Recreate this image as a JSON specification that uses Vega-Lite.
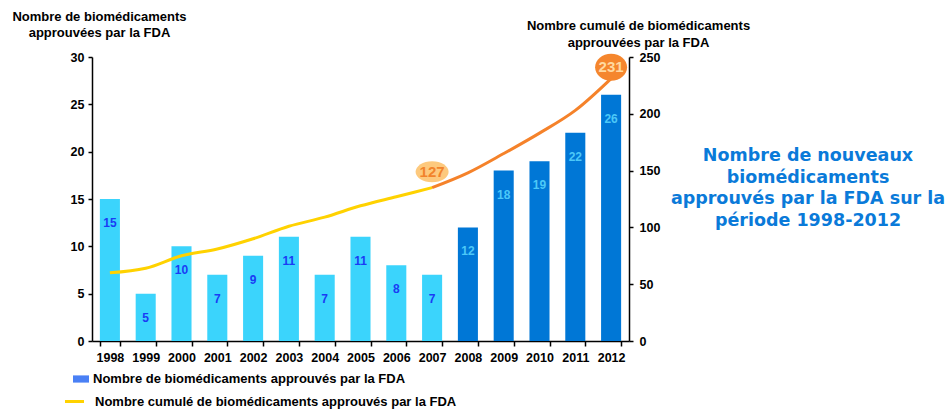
{
  "$schema": "https://vega.github.io/schema/vega-lite/v6.json",
  "width": 537,
  "height": 284,
  "autosize": {"type": "none"},
  "padding": {"left": 92, "top": 57, "right": 322, "bottom": 69},
  "background": "white",
  "config": {
    "view": {"stroke": null},
    "font": "Liberation Sans",
    "axis": {
      "domainColor": "black", "domainWidth": 1.5, "tickColor": "black", "tickWidth": 1.5,
      "labelColor": "black", "labelFont": "Liberation Sans", "labelFontWeight": "bold", "labelFontSize": 12.5,
      "titleColor": "black", "titleFont": "Liberation Sans", "titleFontWeight": "bold", "titleFontSize": 13,
      "grid": false
    },
    "legend": {"labelFont": "Liberation Sans", "labelFontWeight": "bold", "labelFontSize": 13, "labelColor": "black", "labelLimit": 0, "padding": 0}
  },
  "title": {
    "text": ["Nombre de nouveaux", "biomédicaments", "approuvés par la FDA sur la", "période 1998-2012"],
    "orient": "top", "anchor": "end", "frame": "group", "align": "center", "dx": 179, "dy": 223,
    "font": "DejaVu Sans", "fontSize": 17.5, "fontWeight": "bold", "color": "#0A7AD9", "lineHeight": 21.5
  },
  "datasets": {
    "barres": [
      {"annee": 1998, "nombre": 15, "groupe": "clair"},
      {"annee": 1999, "nombre": 5, "groupe": "clair"},
      {"annee": 2000, "nombre": 10, "groupe": "clair"},
      {"annee": 2001, "nombre": 7, "groupe": "clair"},
      {"annee": 2002, "nombre": 9, "groupe": "clair"},
      {"annee": 2003, "nombre": 11, "groupe": "clair"},
      {"annee": 2004, "nombre": 7, "groupe": "clair"},
      {"annee": 2005, "nombre": 11, "groupe": "clair"},
      {"annee": 2006, "nombre": 8, "groupe": "clair"},
      {"annee": 2007, "nombre": 7, "groupe": "clair"},
      {"annee": 2008, "nombre": 12, "groupe": "fonce"},
      {"annee": 2009, "nombre": 18, "groupe": "fonce"},
      {"annee": 2010, "nombre": 19, "groupe": "fonce"},
      {"annee": 2011, "nombre": 22, "groupe": "fonce"},
      {"annee": 2012, "nombre": 26, "groupe": "fonce"}
    ],
    "cumul": [
      {"annee": 1998, "valeur": 60, "segment": "jaune"},
      {"annee": 1999, "valeur": 64, "segment": "jaune"},
      {"annee": 2000, "valeur": 75, "segment": "jaune"},
      {"annee": 2001, "valeur": 81, "segment": "jaune"},
      {"annee": 2002, "valeur": 90, "segment": "jaune"},
      {"annee": 2003, "valeur": 101, "segment": "jaune"},
      {"annee": 2004, "valeur": 109, "segment": "jaune"},
      {"annee": 2005, "valeur": 119, "segment": "jaune"},
      {"annee": 2006, "valeur": 127, "segment": "jaune"},
      {"annee": 2007, "valeur": 135, "segment": "jaune"},
      {"annee": 2007, "valeur": 135, "segment": "orange"},
      {"annee": 2008, "valeur": 148, "segment": "orange"},
      {"annee": 2009, "valeur": 165, "segment": "orange"},
      {"annee": 2010, "valeur": 183, "segment": "orange"},
      {"annee": 2011, "valeur": 203, "segment": "orange"},
      {"annee": 2012, "valeur": 231, "segment": "orange"}
    ],
    "annotations": [
      {"annee": 2007, "valeur": 149, "label": "127"},
      {"annee": 2012, "valeur": 241, "label": "231"}
    ]
  },
  "encoding": {
    "x": {
      "field": "annee", "type": "ordinal",
      "scale": {"paddingInner": 0.44, "paddingOuter": 0.22},
      "axis": {"title": null, "labelAngle": 0, "tickBand": "extent", "tickSize": 5, "labelPadding": 5}
    }
  },
  "layer": [
    {
      "data": {"name": "barres"},
      "encoding": {
        "y": {
          "field": "nombre", "type": "quantitative",
          "scale": {"domain": [0, 30], "nice": false},
          "axis": {
            "orient": "left", "values": [0, 5, 10, 15, 20, 25, 30], "tickSize": 4, "labelPadding": 4,
            "title": ["Nombre de biomédicaments", "approuvées par la FDA"],
            "titleAngle": 0, "titleAlign": "center", "titleBaseline": "alphabetic",
            "titleX": 7, "titleY": -37, "titleLineHeight": 16.5
          }
        }
      },
      "layer": [
        {
          "mark": {"type": "bar"},
          "encoding": {
            "fill": {
              "field": "groupe", "type": "nominal",
              "scale": {"domain": ["legende", "clair", "fonce"], "range": ["#4A80F5", "#3BD4FC", "#0077D6"]},
              "legend": {
                "orient": "none", "legendX": -19, "legendY": 314, "title": null,
                "values": ["legende"], "labelExpr": "'Nombre de biomédicaments approuvés par la FDA'",
                "symbolType": "M-1,-0.45H1V0.45H-1Z", "symbolSize": 256, "labelOffset": 4,
                "symbolStrokeWidth": 0
              }
            }
          }
        },
        {
          "mark": {"type": "text", "baseline": "middle", "dy": 24, "fontSize": 12, "fontWeight": "bold", "font": "Liberation Sans"},
          "encoding": {
            "text": {"field": "nombre", "type": "quantitative"},
            "color": {"condition": {"test": "datum.groupe === 'clair'", "value": "#1A3CF5"}, "value": "#4CC8F8"}
          }
        }
      ]
    },
    {
      "encoding": {
        "y": {
          "field": "valeur", "type": "quantitative",
          "scale": {"domain": [0, 250], "nice": false},
          "axis": {
            "orient": "right", "values": [0, 50, 100, 150, 200, 250], "tickSize": 4, "labelPadding": 6,
            "title": ["Nombre cumulé de biomédicaments", "approuvées par la FDA"],
            "titleAngle": 0, "titleAlign": "center", "titleBaseline": "alphabetic",
            "titleX": 9, "titleY": -28, "titleLineHeight": 17.5
          }
        }
      },
      "layer": [
        {
          "data": {"name": "cumul"},
          "mark": {"type": "line", "strokeWidth": 3, "interpolate": "monotone"},
          "encoding": {
            "stroke": {
              "field": "segment", "type": "nominal",
              "scale": {"domain": ["jaune", "orange"], "range": ["#FFD200", "#F5822A"]},
              "legend": {
                "orient": "none", "legendX": -28.5, "legendY": 333.5, "title": null,
                "values": ["jaune"], "labelExpr": "'Nombre cumulé de biomédicaments approuvés par la FDA'",
                "symbolType": "stroke", "symbolSize": 361, "symbolStrokeWidth": 3, "labelOffset": 9.5
              }
            }
          }
        },
        {
          "data": {"name": "annotations"},
          "transform": [{"filter": "datum.label === '127'"}],
          "layer": [
            {"mark": {"type": "point", "filled": true, "opacity": 1, "shape": "M-1,0A1,0.64 0 1,0 1,0A1,0.64 0 1,0 -1,0", "size": 1089, "color": "#FDC97D"}, "encoding": {}},
            {"mark": {"type": "text", "fontSize": 15, "fontWeight": "bold", "font": "Liberation Sans", "color": "#F2832B", "baseline": "middle"}, "encoding": {"text": {"field": "label"}}}
          ]
        },
        {
          "data": {"name": "annotations"},
          "transform": [{"filter": "datum.label === '231'"}],
          "layer": [
            {"mark": {"type": "point", "filled": true, "opacity": 1, "shape": "M-1,0A1,0.84 0 1,0 1,0A1,0.84 0 1,0 -1,0", "size": 1024, "color": "#F5862D"}, "encoding": {}},
            {"mark": {"type": "text", "fontSize": 15, "fontWeight": "bold", "font": "Liberation Sans", "color": "#FFD9A0", "baseline": "middle"}, "encoding": {"text": {"field": "label"}}}
          ]
        }
      ]
    }
  ],
  "resolve": {"scale": {"y": "independent"}, "axis": {"y": "independent"}}
}
